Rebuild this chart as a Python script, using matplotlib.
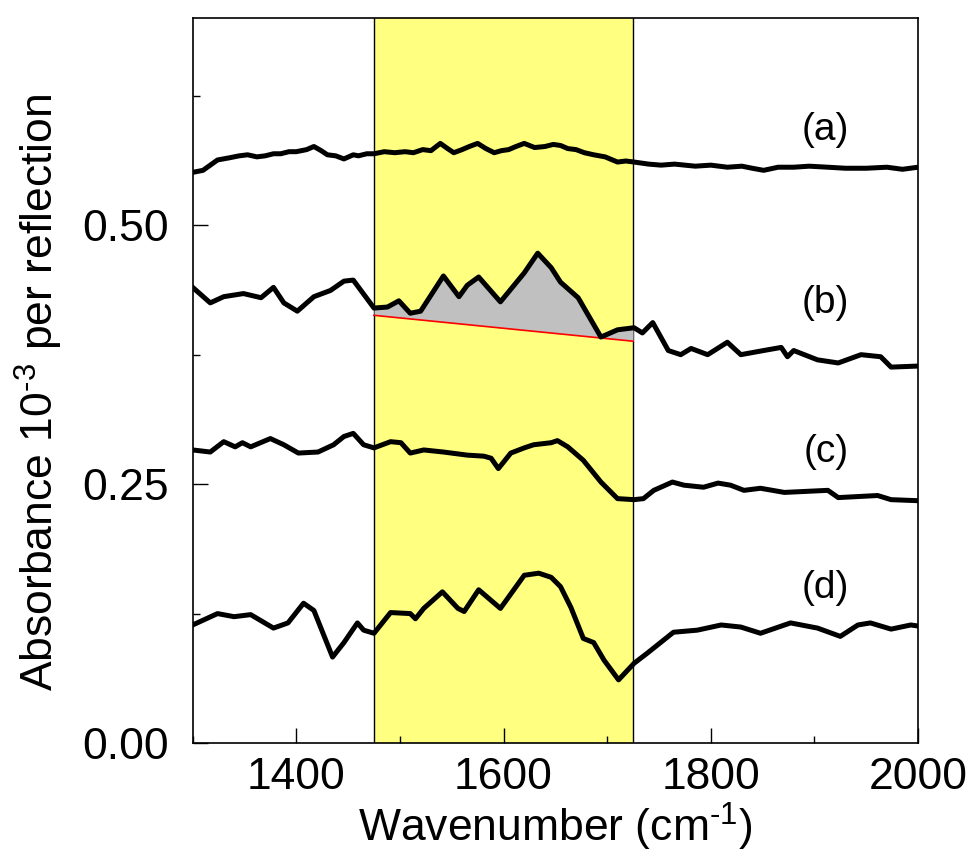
import matplotlib
matplotlib.use("Agg")
import matplotlib.pyplot as plt
import numpy as np
from matplotlib.ticker import MultipleLocator, FormatStrFormatter

plt.rcParams['font.family'] = ['Liberation Sans', 'DejaVu Sans']
plt.rcParams['mathtext.fontset'] = 'custom'
plt.rcParams['mathtext.rm'] = 'Liberation Sans'
plt.rcParams['mathtext.it'] = 'Liberation Sans'

# ---- data ----
xa = [1300, 1310, 1317, 1324, 1335, 1345, 1353, 1362, 1370, 1378, 1385, 1393, 1400, 1410,
      1417, 1424, 1430, 1438, 1446, 1455, 1460, 1468, 1475, 1485, 1495, 1505, 1513, 1522,
      1530, 1539, 1546, 1552, 1560, 1567, 1575, 1583, 1591, 1598, 1605, 1612, 1620, 1630,
      1640, 1648, 1655, 1662, 1670, 1678, 1687, 1698, 1710, 1718, 1726, 1740, 1752, 1765,
      1785, 1800, 1816, 1830, 1840, 1851, 1865, 1880, 1895, 1913, 1930, 1950, 1970, 1985,
      2000]
ya = [0.551, 0.553, 0.558, 0.563, 0.565, 0.567, 0.568, 0.566, 0.567, 0.569, 0.569, 0.571,
      0.571, 0.573, 0.576, 0.572, 0.568, 0.567, 0.564, 0.568, 0.567, 0.569, 0.569, 0.571,
      0.570, 0.571, 0.570, 0.573, 0.572, 0.579, 0.574, 0.570, 0.573, 0.576, 0.579, 0.574,
      0.570, 0.572, 0.573, 0.576, 0.579, 0.575, 0.576, 0.578, 0.577, 0.574, 0.573, 0.570,
      0.568, 0.566, 0.561, 0.562, 0.561, 0.559, 0.558, 0.559, 0.557, 0.558, 0.556, 0.557,
      0.555, 0.553, 0.556, 0.556, 0.557, 0.556, 0.555, 0.555, 0.556, 0.554, 0.556]

xb = [1300, 1317, 1330, 1349, 1366, 1378, 1388, 1401, 1417, 1433, 1446, 1455, 1475, 1488,
      1499, 1510, 1520, 1542, 1557, 1565, 1576, 1597, 1620, 1633, 1646, 1655, 1672, 1694,
      1710, 1726, 1734, 1744, 1759, 1771, 1781, 1797, 1816, 1829, 1851, 1868, 1874, 1880,
      1903, 1923, 1945, 1964, 1974, 2000]
yb = [0.440, 0.425, 0.431, 0.434, 0.430, 0.440, 0.425, 0.417, 0.431, 0.437, 0.446, 0.447,
      0.420, 0.421, 0.427, 0.415, 0.417, 0.451, 0.431, 0.442, 0.450, 0.426, 0.454, 0.473,
      0.459, 0.445, 0.430, 0.392, 0.399, 0.401, 0.396, 0.406, 0.379, 0.375, 0.381, 0.375,
      0.387, 0.375, 0.379, 0.382, 0.373, 0.379, 0.370, 0.367, 0.375, 0.373, 0.363, 0.364]

xc = [1300, 1317, 1330, 1341, 1348, 1356, 1375, 1388, 1402, 1421, 1436, 1446, 1455, 1465,
      1475, 1491, 1501, 1510, 1523, 1542, 1565, 1581, 1588, 1595, 1607, 1620, 1629, 1646,
      1652, 1662, 1677, 1694, 1710, 1726, 1735, 1745, 1763, 1774, 1793, 1807, 1819, 1832,
      1848, 1871, 1913, 1923, 1961, 1974, 2000]
yc = [0.283, 0.281, 0.291, 0.286, 0.290, 0.286, 0.294, 0.288, 0.280, 0.281, 0.288, 0.296,
      0.299, 0.288, 0.285, 0.291, 0.290, 0.280, 0.283, 0.281, 0.278, 0.277, 0.275, 0.265,
      0.280, 0.285, 0.288, 0.290, 0.292, 0.286, 0.273, 0.252, 0.236, 0.235, 0.236, 0.244,
      0.252, 0.249, 0.247, 0.251, 0.249, 0.244, 0.246, 0.242, 0.244, 0.237, 0.239, 0.235,
      0.234]

xd = [1300, 1324, 1340, 1356, 1378, 1392, 1407, 1417, 1435, 1446, 1459, 1465, 1475, 1491,
      1510, 1515, 1523, 1541, 1556, 1562, 1576, 1597, 1620, 1634, 1646, 1655, 1665, 1677,
      1687, 1697, 1711, 1726, 1739, 1764, 1787, 1810, 1829, 1848, 1877, 1903, 1925, 1942,
      1954, 1974, 1993, 2000]
yd = [0.114, 0.125, 0.122, 0.124, 0.111, 0.116, 0.135, 0.128, 0.083, 0.097, 0.116, 0.109,
      0.106, 0.126, 0.125, 0.120, 0.130, 0.146, 0.130, 0.127, 0.148, 0.130, 0.162, 0.164,
      0.160, 0.151, 0.131, 0.101, 0.097, 0.080, 0.061, 0.077, 0.087, 0.107, 0.109, 0.114,
      0.112, 0.106, 0.116, 0.111, 0.103, 0.114, 0.116, 0.110, 0.114, 0.113]

band = [1475, 1725]
baseline_x = [1475, 1725]
baseline_y = [0.413, 0.388]

labels = ['(a)', '(b)', '(c)', '(d)']
label_x = [1911, 1911, 1911, 1911]
label_y = [0.592, 0.425, 0.281, 0.150]

# ---- figure ----
fig = plt.figure(figsize=(9.73, 8.61), dpi=100)
ax = fig.add_axes([0.198, 0.137, 0.7455, 0.842])

ax.axvspan(band[0], band[1], facecolor='#ffff80', edgecolor='none', zorder=0)
for bx in band:
    ax.axvline(bx, color='black', lw=1.0, zorder=1)

# gray area between curve (b) and the red baseline inside the band
xf = np.linspace(band[0], band[1], 500)
bf = np.interp(xf, xb, yb)
lf = np.interp(xf, baseline_x, baseline_y)
ax.fill_between(xf, lf, bf, where=bf >= lf, interpolate=True, color='#c0c0c0', lw=0, zorder=2)
ax.plot(baseline_x, baseline_y, color='red', lw=1.2, zorder=3)

for xs, ys in [(xa, ya), (xb, yb), (xc, yc), (xd, yd)]:
    ax.plot(xs, ys, color='black', lw=3.6, solid_joinstyle='round', zorder=4)

for t, lx, ly in zip(labels, label_x, label_y):
    ax.text(lx, ly, t, fontsize=28, ha='center', va='center', zorder=5)

ax.set_xlim(1300, 2000)
ax.set_ylim(0, 0.70)
ax.xaxis.set_major_locator(MultipleLocator(200))
ax.xaxis.set_minor_locator(MultipleLocator(100))
ax.yaxis.set_major_locator(MultipleLocator(0.25))
ax.yaxis.set_minor_locator(MultipleLocator(0.125))
ax.yaxis.set_major_formatter(FormatStrFormatter('%.2f'))
ax.tick_params(which='both', direction='in', top=False, right=False, labelsize=32, width=1.0)
ax.tick_params(which='major', length=11)
ax.tick_params(which='minor', length=5)
ax.tick_params(axis='x', which='major', pad=10)
ax.tick_params(axis='y', which='major', pad=17)
for s in ax.spines.values():
    s.set_linewidth(1.2)

ax.set_xlabel('Wavenumber (cm$^{\\text{-}1}$)', fontsize=32, labelpad=2)
ax.set_ylabel('Absorbance 10$^{\\text{-}3}$ per reflection', fontsize=32)
ax.yaxis.set_label_coords(-0.176, 0.484)

fig.savefig('out.png', dpi=100)
